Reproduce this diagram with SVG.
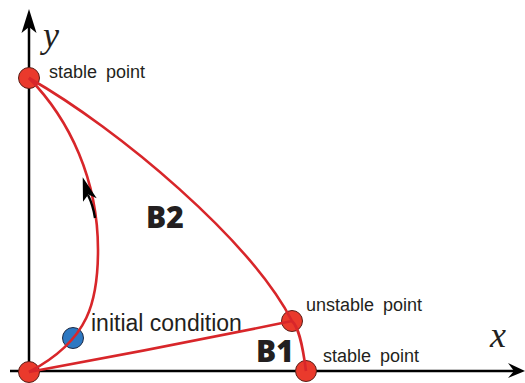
<svg xmlns="http://www.w3.org/2000/svg" width="525" height="383" viewBox="0 0 525 383">
<style>
.axis{stroke:#000;stroke-width:2.5;fill:none}
.curve{stroke:#d8262a;stroke-width:2.6;fill:none}
.node{fill:#ea3a2c;stroke:#5a1e17;stroke-width:1}
.blue{fill:#2d78c2;stroke:#1d2a44;stroke-width:1}
.lbl{font-family:"Liberation Sans",Arial,sans-serif;font-size:18px;fill:#231f20;word-spacing:4px}
.big{font-family:"Open Sans","Liberation Sans",sans-serif;font-weight:800;font-size:30px;fill:#231f20}
.var{font-family:"Liberation Serif","Times New Roman",serif;font-style:italic;font-size:36px;fill:#231f20}
</style>
<rect width="525" height="383" fill="#fff"/>
<g id="axes">
<line class="axis" x1="29" y1="378" x2="29" y2="22"/>
<line class="axis" x1="10" y1="371" x2="514" y2="371"/>
<polygon points="29,9 36.5,33 29,27 21.5,33" fill="#000"/>
<polygon points="525,371 508,363 514,371 508,378" fill="#000"/>
<text class="var" x="43" y="47">y</text>
<text class="var" x="490" y="347">x</text>
</g>
<g id="origin"><circle class="node" cx="29" cy="372" r="10.5"/></g>
<g id="stable-y"><circle class="node" cx="29" cy="78" r="10.5"/><text class="lbl" x="49" y="78">stable point</text></g>
<g id="unstable"><circle class="node" cx="292" cy="321" r="10.5"/><text class="lbl" x="306" y="311">unstable point</text></g>
<g id="stable-x"><circle class="node" cx="306" cy="371" r="10.5"/><text class="lbl" x="323" y="362">stable point</text></g>
<g id="initial"><circle class="blue" cx="73" cy="338" r="10.5"/><text class="lbl" x="91" y="331" style="font-size:23px;word-spacing:0">initial condition</text></g>
<g id="B2"><text class="big" x="146" y="228">B2</text></g>
<g id="B1"><text class="big" x="256" y="362">B1</text></g>
<g id="connectors">
<path class="curve" d="M29,78 C120,130 250,240 292,321"/>
<path class="curve" d="M29,372 C90,340 98,300 98,250 C98,180 70,120 29,78"/>
<path class="curve" d="M29,372 Q160,348 292,321"/>
<path class="curve" d="M292,321 C298,327 302,340 306,371"/>
<path d="M88,195 Q93,205 95,218" stroke="#000" stroke-width="2.4" fill="none"/>
<polygon points="82.7,177.3 96.7,198.3 88.3,194.5 83,201.7" fill="#000"/>
</g>
</svg>
